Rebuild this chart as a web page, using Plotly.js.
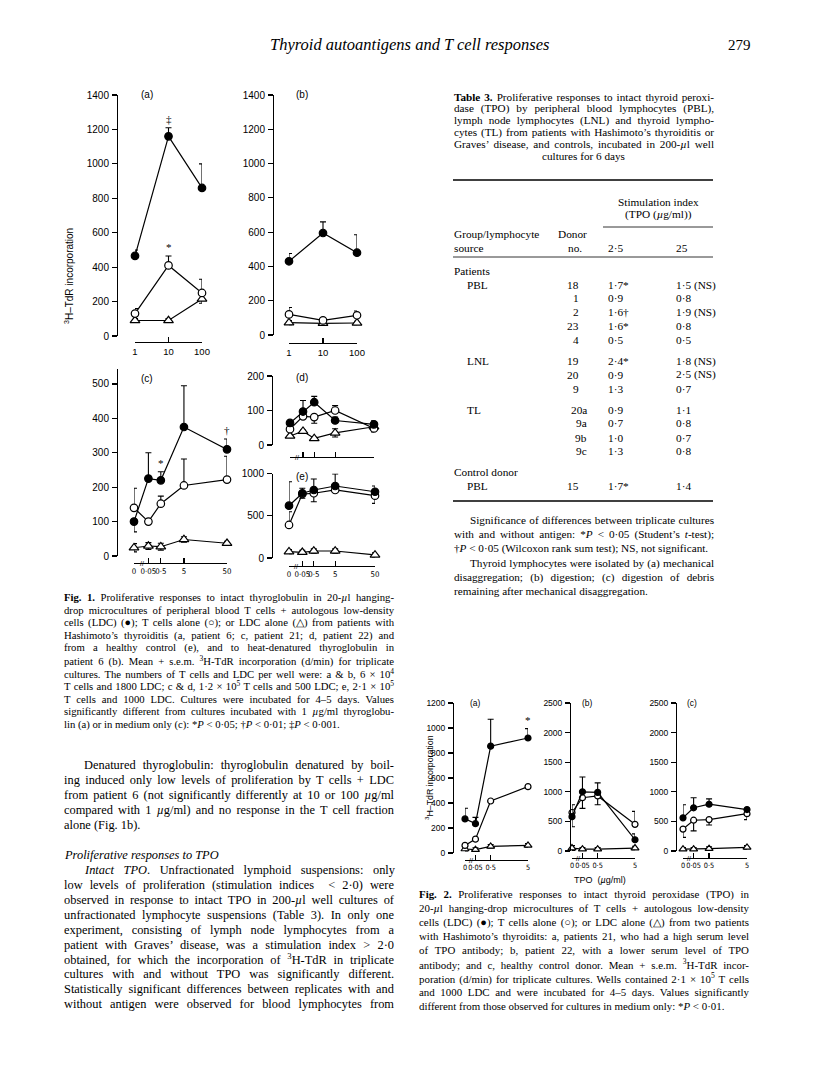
<!DOCTYPE html>
<html><head><meta charset="utf-8">
<script src="https://cdn.plot.ly/plotly-3.0.1.min.js"></script>
<style>html,body{margin:0;padding:0;background:#fff}</style>
</head><body><div id="chart" style="width:816px;height:1075px"></div>
<script>
// ---------------- DATA ----------------
const fig1TgDose = [1, 10, 100];
const fig1TgLabels = ['1', '10', '100'];
const fig1Dose = [0, 0.05, 0.5, 5, 50];
const fig1DoseLabels = ['0', '0·05', '0·5', '5', '50'];
const fig2Dose = [0, 0.05, 0.5, 5];
const fig2DoseLabels = ['0', '0·05', '0·5', '5'];

// Fig 1 (a) patient 6, intact thyroglobulin
const f1a_TL = [465, 1160, 860], f1a_TL_up = [35, 50, 140];
const f1a_T = [130, 410, 250], f1a_T_up = [30, 55, 80];
const f1a_L = [90, 90, 215], f1a_L_err = [12, 12, 25];
// Fig 1 (b) patient 6, denatured thyroglobulin
const f1b_TL = [430, 595, 480], f1b_TL_up = [45, 65, 105];
const f1b_T = [120, 85, 115], f1b_T_up = [40, 10, 25];
const f1b_L = [72, 68, 70], f1b_L_err = [12, 10, 10];
// Fig 1 (c) patient 21
const f1c_TL = [100, 225, 220, 375, 310], f1c_TL_up = [0, 75, 25, 120, 30], f1c_TL_dn = [30, 0, 0, 0, 0];
const f1c_T = [140, 100, 152, 205, 222], f1c_T_up = [57, 0, 22, 77, 68];
const f1c_L = [24, 29, 27, 48, 37], f1c_L_err = [12, 10, 10, 8, 6];
// Fig 1 (d) patient 22
const f1d_TL = [64, 97, 124, 71, 60], f1d_TL_up = [7, 32, 17, 10, 10], f1d_TL_dn = [0, 0, 0, 0, 10];
const f1d_T = [46, 83, 81, 100, 48], f1d_T_up = [0, 0, 0, 14, 10], f1d_T_dn = [0, 0, 18, 0, 10];
const f1d_L = [26, 40, 19, 35, 53], f1d_L_err = [5, 3, 3, 12, 5];
// Fig 1 (e) healthy control
const f1e_TL = [619, 766, 805, 852, 784], f1e_TL_up = [284, 59, 130, 142, 68];
const f1e_T = [391, 757, 766, 805, 737], f1e_T_up = [157, 0, 0, 0, 0], f1e_T_dn = [0, 50, 100, 0, 90];
const f1e_L = [75, 67, 83, 83, 36], f1e_L_err = [25, 25, 25, 25, 25];
// Fig 2 (a) patient 21, TPO
const f2a_TL = [273, 235, 855, 920], f2a_TL_up = [85, 50, 215, 75];
const f2a_T = [61, 111, 416, 531];
const f2a_L = [32, 27, 53, 61], f2a_L_err = [15, 15, 15, 15];
// Fig 2 (b) patient 22
const f2b_TL = [580, 1000, 990, 190], f2b_TL_up = [200, 250, 160, 100], f2b_TL_dn = [170, 0, 0, 0];
const f2b_T = [650, 900, 930, 450], f2b_T_up = [0, 0, 0, 220], f2b_T_dn = [0, 180, 150, 0];
const f2b_L = [50, 30, 30, 50], f2b_L_err = [40, 30, 30, 30];
// Fig 2 (c) control
const f2c_TL = [560, 730, 790, 700], f2c_TL_up = [220, 170, 90, 0];
const f2c_T = [370, 520, 530, 630], f2c_T_dn = [140, 180, 90, 100];
const f2c_L = [30, 30, 40, 60], f2c_L_err = [30, 30, 30, 30];

// Table 3
const tblGroups = ['PBL', '', '', '', '', 'LNL', '', '', 'TL', '', '', ''];
const tblDonor = ['18', '1', '2', '23', '4', '19', '20', '9', '20a', '9a', '9b', '9c'];
const tblSI25 = ['1·7*', '0·9', '1·6†', '1·6*', '0·5', '2·4*', '0·9', '1·3', '0·9', '0·7', '1·0', '1·3'];
const tblSI250 = ['1·5 (NS)', '0·8', '1·9 (NS)', '0·8', '0·5', '1·8 (NS)', '2·5 (NS)', '0·7', '1·1', '0·8', '0·7', '0·8'];
const tblCtrl = ['PBL', '15', '1·7*', '1·4'];

// ---------------- HELPERS ----------------
const W = 816, H = 1075;
const X = px => px / W;
const Y = py => 1 - py / H;
const pow1 = d => Math.pow(d, 0.27);
const pow2 = d => Math.pow(d, 0.39);
const zeros = n => new Array(n).fill(0);
function S(y, up, dn) { return {y: y, up: up || zeros(y.length), dn: dn || zeros(y.length)}; }

const panels = [
  {x: fig1TgDose, lab: fig1TgLabels, scale: 'log', TL: S(f1a_TL, f1a_TL_up), T: S(f1a_T, f1a_T_up), L: S(f1a_L, f1a_L_err, f1a_L_err),
   xDom: [135, 202], yTop: 95, yBot: 336, yLine: 117, xLine: 342, yMax: 1400, yTicks: [0, 200, 400, 600, 800, 1000, 1200, 1400], name: '(a)', nameAt: [139, 95], ms: 7.5, fs: 10, xfs: 9.5},
  {x: fig1TgDose, lab: fig1TgLabels, scale: 'log', TL: S(f1b_TL, f1b_TL_up), T: S(f1b_T, f1b_T_up), L: S(f1b_L, f1b_L_err, f1b_L_err),
   xDom: [289, 357], yTop: 95, yBot: 335, yLine: 273, xLine: 343, yMax: 1400, yTicks: [0, 200, 400, 600, 800, 1000, 1200, 1400], name: '(b)', nameAt: [294, 95], ms: 7.5, fs: 10, xfs: 9.5},
  {x: fig1Dose, lab: fig1DoseLabels, scale: 'p1', TL: S(f1c_TL, f1c_TL_up, f1c_TL_dn), T: S(f1c_T, f1c_T_up), L: S(f1c_L, f1c_L_err, f1c_L_err),
   xDom: [134, 227], yTop: 368.5, yBot: 556, yLine: 117, xLine: 563, yMax: 545, yTicks: [0, 100, 200, 300, 400, 500], name: '(c)', nameAt: [139, 378], ms: 7.5, fs: 10, xfs: 7.8},
  {x: fig1Dose, lab: null, scale: 'p1', TL: S(f1d_TL, f1d_TL_up, f1d_TL_dn), T: S(f1d_T, f1d_T_up, f1d_T_dn), L: S(f1d_L, f1d_L_err, f1d_L_err),
   xDom: [290, 374], yTop: 376, yBot: 445, yLine: 272, xLine: 457, yMax: 200, yTicks: [0, 100, 200], name: '(d)', nameAt: [294, 377], ms: 7.5, fs: 10, xfs: 7.8},
  {x: fig1Dose, lab: fig1DoseLabels, scale: 'p1', TL: S(f1e_TL, f1e_TL_up), T: S(f1e_T, f1e_T_up, f1e_T_dn), L: S(f1e_L, f1e_L_err, f1e_L_err),
   xDom: [289, 375], yTop: 473.5, yBot: 558, yLine: 272, xLine: 566, yMax: 1000, yTicks: [0, 500, 1000], name: '(e)', nameAt: [294, 476], ms: 7.5, fs: 10, xfs: 7.8},
  {x: fig2Dose, lab: fig2DoseLabels, scale: 'p2', TL: S(f2a_TL, f2a_TL_up), T: S(f2a_T), L: S(f2a_L, f2a_L_err, f2a_L_err),
   xDom: [465, 528], yTop: 703, yBot: 853, yLine: 453, xLine: 860, yMax: 1200, yTicks: [0, 200, 400, 600, 800, 1000, 1200], name: '(a)', nameAt: [468, 703], ms: 6, fs: 8.5, xfs: 7.3},
  {x: fig2Dose, lab: fig2DoseLabels, scale: 'p2', TL: S(f2b_TL, f2b_TL_up, f2b_TL_dn), T: S(f2b_T, f2b_T_up, f2b_T_dn), L: S(f2b_L, f2b_L_err, f2b_L_err),
   xDom: [572, 635], yTop: 703, yBot: 851, yLine: 570, xLine: 858, yMax: 2500, yTicks: [0, 500, 1000, 1500, 2000, 2500], name: '(b)', nameAt: [580, 703], ms: 6, fs: 8.5, xfs: 7.3},
  {x: fig2Dose, lab: fig2DoseLabels, scale: 'p2', TL: S(f2c_TL, f2c_TL_up), T: S(f2c_T, null, f2c_T_dn), L: S(f2c_L, f2c_L_err, f2c_L_err),
   xDom: [683, 747], yTop: 703, yBot: 851, yLine: 676, xLine: 858, yMax: 2500, yTicks: [0, 500, 1000, 1500, 2000, 2500], name: '(c)', nameAt: [685, 703], ms: 6, fs: 8.5, xfs: 7.3}
];

const sig = [
  {p: 0, s: 'TL', i: 1, t: '‡'},
  {p: 0, s: 'T', i: 1, t: '*'},
  {p: 2, s: 'TL', i: 2, t: '*'},
  {p: 2, s: 'TL', i: 4, t: '†'},
  {p: 5, s: 'TL', i: 3, t: '*'}
];

const FIGFONT = 'Liberation Sans, Arial, sans-serif';
const NARROW = 'Liberation Sans Narrow, DejaVu Sans Condensed, Arial Narrow, sans-serif';
const SERIF = 'Liberation Serif, Times New Roman, serif';
const traces = [];
const layout = {
  width: W, height: H, margin: {l: 0, r: 0, t: 0, b: 0},
  paper_bgcolor: '#fff', plot_bgcolor: 'rgba(0,0,0,0)', showlegend: false,
  annotations: [], shapes: []
};

function xMap(p) {
  if (p.scale === 'log') return {tr: d => d, an: d => Math.log10(d)};
  const f = p.scale === 'p1' ? pow1 : pow2;
  return {tr: f, an: f};
}

panels.forEach((p, k) => {
  const sfx = k === 0 ? '' : String(k + 1);
  const xa = 'x' + sfx, ya = 'y' + sfx;
  const m = xMap(p);
  const xmax = p.x[p.x.length - 1], xmin = p.x[0];
  const xaxis = {
    domain: [X(p.xDom[0]), X(p.xDom[1])], anchor: 'free', position: Y(p.xLine),
    showline: true, linecolor: '#000', linewidth: 1.3, ticks: 'inside', ticklen: 5, tickwidth: 1.2, tickcolor: '#000',
    showgrid: false, zeroline: false, tickmode: 'array', tickangle: 0, ticklabeloverflow: 'allow',
    showticklabels: !!p.lab, ticklabelstandoff: 0,
    tickfont: {family: p.scale === 'log' ? FIGFONT : NARROW, size: p.xfs, color: '#000'}, fixedrange: true
  };
  if (p.scale === 'log') {
    xaxis.type = 'log'; xaxis.range = [Math.log10(xmin), Math.log10(xmax)];
    xaxis.tickvals = p.x;
  } else {
    xaxis.type = 'linear'; xaxis.range = [m.tr(xmin), m.tr(xmax)];
    xaxis.tickvals = p.x.map(m.tr);
  }
  if (p.lab) xaxis.ticktext = p.lab;
  layout['xaxis' + sfx] = xaxis;
  layout['yaxis' + sfx] = {
    domain: [Y(p.yBot), Y(p.yTop)], anchor: 'free', position: X(p.yLine), range: [0, p.yMax],
    showline: true, linecolor: '#000', linewidth: 1.3, ticks: 'outside', ticklen: 5, tickwidth: 1.2, tickcolor: '#000',
    showgrid: false, zeroline: false, tickmode: 'array', tickvals: p.yTicks, ticktext: p.yTicks.map(String),
    tickfont: {family: FIGFONT, size: p.fs, color: '#000'}, ticklabelstandoff: 1, fixedrange: true
  };
  const xs = p.x.map(m.tr);
  const mk = (ser, symbol, fill) => ({
    type: 'scatter', mode: 'lines+markers', x: xs, y: ser.y, xaxis: xa, yaxis: ya, cliponaxis: false,
    line: {color: '#000', width: 1.2},
    marker: {symbol: symbol, size: symbol.indexOf('triangle') === 0 ? p.ms + 1 : p.ms, color: fill, line: {color: '#000', width: 1.2}},
    error_y: {type: 'data', symmetric: false, array: ser.up, arrayminus: ser.dn, color: '#000', thickness: 1.1, width: 3},
    hoverinfo: 'skip'
  });
  traces.push(mk(p.L, 'triangle-up', '#fff'));
  traces.push(mk(p.T, 'circle', '#fff'));
  traces.push(mk(p.TL, 'circle', '#000'));
  layout.annotations.push({text: p.name, xref: 'paper', yref: 'paper', x: X(p.nameAt[0]), y: Y(p.nameAt[1]),
    xanchor: 'left', yanchor: 'middle', showarrow: false, font: {family: FIGFONT, size: p.fs, color: '#000'}});
  if (p.scale !== 'log') {
    layout.annotations.push({text: '//', xref: xa, yref: 'paper', x: m.an(p.x[1]) * 0.55, y: Y(p.xLine),
      xanchor: 'center', yanchor: 'middle', showarrow: false, font: {family: FIGFONT, size: 7, color: '#000'}});
  }
  p._xa = xa; p._ya = ya; p._m = m;
});

sig.forEach(s => {
  const p = panels[s.p];
  const ser = p[s.s];
  layout.annotations.push({text: s.t, xref: p._xa, yref: p._ya, x: p._m.an(p.x[s.i]), y: ser.y[s.i] + ser.up[s.i],
    xanchor: 'center', yanchor: 'bottom', yshift: 1, showarrow: false, font: {family: SERIF, size: 11, color: '#000'}});
});

layout.annotations.push({text: '<sup>3</sup>H–TdR incorporation', xref: 'paper', yref: 'paper', x: X(69), y: Y(276),
  textangle: -90, showarrow: false, xanchor: 'center', yanchor: 'middle', font: {family: FIGFONT, size: 10, color: '#000'}});
layout.annotations.push({text: '<sup>3</sup>H–TdR incorporation', xref: 'paper', yref: 'paper', x: X(429), y: Y(778),
  textangle: -90, showarrow: false, xanchor: 'center', yanchor: 'middle', font: {family: FIGFONT, size: 8.8, color: '#000'}});
layout.annotations.push({text: 'TPO  (<i>µ</i>g/ml)', xref: 'paper', yref: 'paper', x: X(600), y: Y(880),
  showarrow: false, xanchor: 'center', yanchor: 'middle', font: {family: FIGFONT, size: 9, color: '#000'}});

// ---------------- TEXT ----------------
const justify = [];
function txt(text, x, y, o) {
  o = o || {};
  const a = {text: text, xref: 'paper', yref: 'paper', x: X(x), y: Y(y), showarrow: false,
    xanchor: o.xanchor || 'left', yanchor: 'middle', align: o.xanchor === 'center' ? 'center' : (o.xanchor === 'right' ? 'right' : 'left'),
    borderpad: 0, font: {family: o.family || SERIF, size: o.size || 11.3, color: '#000'}};
  layout.annotations.push(a);
  if (o.to) justify.push({idx: layout.annotations.length - 1, width: o.to - x});
}
function block(lines, x0, x1, y0, dy, size, indent) {
  lines.forEach((ln, i) => {
    const ind = ln.ind ? (indent || 17) : 0;
    txt(ln.t, x0 + ind, y0 + i * dy, {size: size, to: ln.j === false ? null : x1});
  });
}

// column geometry
const LC = [63, 393], RC = [418, 748], TB = [453, 713];

txt('<i>Thyroid autoantigens and T cell responses</i>', 409, 45, {size: 16.5, xanchor: 'center'});
txt('279', RC[1] + 4, 45, {size: 15, xanchor: 'right'});

block([
  {t: '<b>Fig. 1.</b> Proliferative responses to intact thyroglobulin in 20-<i>µ</i>l hanging-'},
  {t: 'drop microcultures of peripheral blood T cells + autologous low-density'},
  {t: 'cells (LDC) (●); T cells alone (○); or LDC alone (△) from patients with'},
  {t: 'Hashimoto\u2019s thyroiditis (a, patient 6; c, patient 21; d, patient 22) and'},
  {t: 'from a healthy control (e), and to heat-denatured thyroglobulin in'},
  {t: 'patient 6 (b). Mean + s.e.m. <sup>3</sup>H-TdR incorporation (d/min) for triplicate'},
  {t: 'cultures. The numbers of T cells and LDC per well were: a & b, 6 × 10<sup>4</sup>'},
  {t: 'T cells and 1800 LDC; c & d, 1·2 × 10<sup>5</sup> T cells and 500 LDC; e, 2·1 × 10<sup>5</sup>'},
  {t: 'T cells and 1000 LDC. Cultures were incubated for 4–5 days. Values'},
  {t: 'significantly different from cultures incubated with 1 <i>µ</i>g/ml thyroglobu-'},
  {t: 'lin (a) or in medium only (c): *<i>P</i> < 0·05; †<i>P</i> < 0·01; ‡<i>P</i> < 0·001.', j: false}
], LC[0], LC[1], 597, 12.7, 10.7);

block([
  {t: 'Denatured thyroglobulin: thyroglobulin denatured by boil-', ind: 1},
  {t: 'ing induced only low levels of proliferation by T cells + LDC'},
  {t: 'from patient 6 (not significantly differently at 10 or 100 <i>µ</i>g/ml'},
  {t: 'compared with 1 <i>µ</i>g/ml) and no response in the T cell fraction'},
  {t: 'alone (Fig. 1b).', j: false}
], LC[0], LC[1], 765, 15, 12.4, 20);
txt('<i>Proliferative responses to TPO</i>', LC[0], 855, {size: 12.4});
block([
  {t: '<i>Intact TPO</i>. Unfractionated lymphoid suspensions: only', ind: 1},
  {t: 'low levels of proliferation (stimulation indices  < 2·0) were'},
  {t: 'observed in response to intact TPO in 200-<i>µ</i>l well cultures of'},
  {t: 'unfractionated lymphocyte suspensions (Table 3). In only one'},
  {t: 'experiment, consisting of lymph node lymphocytes from a'},
  {t: 'patient with Graves\u2019 disease, was a stimulation index > 2·0'},
  {t: 'obtained, for which the incorporation of <sup>3</sup>H-TdR in triplicate'},
  {t: 'cultures with and without TPO was significantly different.'},
  {t: 'Statistically significant differences between replicates with and'},
  {t: 'without antigen were observed for blood lymphocytes from'}
], LC[0], LC[1], 870, 14.9, 12.4, 20);

// Table 3 title
block([
  {t: '<b>Table 3.</b> Proliferative responses to intact thyroid peroxi-'},
  {t: 'dase (TPO) by peripheral blood lymphocytes (PBL),'},
  {t: 'lymph node lymphocytes (LNL) and thyroid lympho-'},
  {t: 'cytes (TL) from patients with Hashimoto\u2019s thyroiditis or'},
  {t: 'Graves\u2019 disease, and controls, incubated in 200-<i>µ</i>l well'}
], TB[0], TB[1], 97, 11.8, 11.2);
txt('cultures for 6 days', (TB[0] + TB[1]) / 2, 156, {size: 11.2, xanchor: 'center'});

function hline(x0, x1, y, w) {
  layout.shapes.push({type: 'line', xref: 'paper', yref: 'paper', x0: X(x0), x1: X(x1), y0: Y(y), y1: Y(y), line: {color: '#000', width: w}});
}
hline(TB[0], TB[1], 180, 1.6);
hline(603, TB[1], 227, 0.8);
hline(TB[0], TB[1], 257, 0.8);
hline(TB[0], TB[1], 501, 1.6);

const C1 = 607, C2 = 675, DON = 580, SUB = 466;
txt('Stimulation index', 658, 202, {xanchor: 'center'});
txt('(TPO (<i>µ</i>g/ml))', 658, 215, {xanchor: 'center'});
txt('Group/lymphocyte', TB[0], 234);
txt('Donor', 557, 234);
txt('source', TB[0], 248);
txt('no.', 567, 248);
txt('2·5', C1, 248);
txt('25', C2, 248);
txt('Patients', TB[0], 271);

const rowY = [285, 298, 312, 326, 340, 361, 375, 389, 409.5, 423.5, 437.5, 451.5];
tblDonor.forEach((d, i) => {
  if (tblGroups[i]) txt(tblGroups[i], SUB, rowY[i]);
  txt(d, /[a-z]$/.test(d) ? DON + 8 : DON, rowY[i], {xanchor: 'right'});
  txt(tblSI25[i], C1, rowY[i]);
  txt(tblSI250[i], C2, rowY[i]);
});
txt('Control donor', TB[0], 472);
txt(tblCtrl[0], SUB, 486);
txt(tblCtrl[1], DON, 486, {xanchor: 'right'});
txt(tblCtrl[2], C1, 486);
txt(tblCtrl[3], C2, 486);

block([
  {t: 'Significance of differences between triplicate cultures', ind: 1},
  {t: 'with and without antigen: *<i>P</i> < 0·05 (Student\u2019s <i>t</i>-test);'},
  {t: '†<i>P</i> < 0·05 (Wilcoxon rank sum test); NS, not significant.', j: false}
], TB[0], TB[1], 520, 14, 11.2, 16);
block([
  {t: 'Thyroid lymphocytes were isolated by (a) mechanical', ind: 1},
  {t: 'disaggregation; (b) digestion; (c) digestion of debris'},
  {t: 'remaining after mechanical disaggregation.', j: false}
], TB[0], TB[1], 563, 14, 11.2, 16);

block([
  {t: '<b>Fig. 2.</b> Proliferative responses to intact thyroid peroxidase (TPO) in'},
  {t: '20-<i>µ</i>l hanging-drop microcultures of T cells + autologous low-density'},
  {t: 'cells (LDC) (●); T cells alone (○); or LDC alone (△) from two patients'},
  {t: 'with Hashimoto\u2019s thyroidits: a, patients 21, who had a high serum level'},
  {t: 'of TPO antibody; b, patient 22, with a lower serum level of TPO'},
  {t: 'antibody; and c, healthy control donor. Mean + s.e.m. <sup>3</sup>H-TdR incor-'},
  {t: 'poration (d/min) for triplicate cultures. Wells contained 2·1 × 10<sup>5</sup> T cells'},
  {t: 'and 1000 LDC and were incubated for 4–5 days. Values significantly'},
  {t: 'different from those observed for cultures in medium only: *<i>P</i> < 0·01.', j: false}
], RC[0], RC[1], 894, 14, 10.9);

Plotly.newPlot('chart', traces, layout, {staticPlot: true, displayModeBar: false}).then(gd => {
  justify.forEach(j => {
    const g = gd.querySelector('.annotation[data-index="' + j.idx + '"]');
    if (!g) return;
    const t = g.querySelector('text.annotation-text');
    if (!t) return;
    const w = t.getComputedTextLength();
    const n = (t.textContent.match(/ /g) || []).length;
    if (n > 0) t.style.wordSpacing = ((j.width - w) / n) + 'px';
  });
});
</script></body></html>
